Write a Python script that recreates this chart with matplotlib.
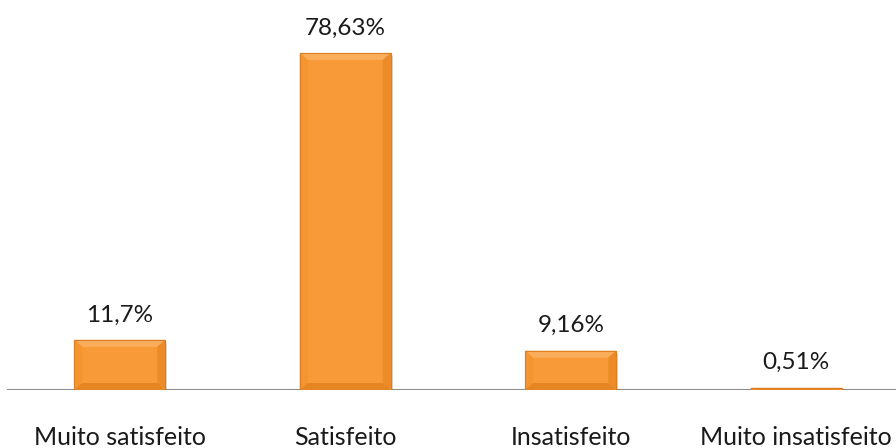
import matplotlib
matplotlib.use("Agg")
import matplotlib.pyplot as plt
from matplotlib.patches import Polygon, Rectangle

categorias = ["Muito satisfeito", "Satisfeito", "Insatisfeito", "Muito insatisfeito"]
valores = [11.7, 78.63, 9.16, 0.51]
rotulos = ["11,7%", "78,63%", "9,16%", "0,51%"]

plt.rcParams['font.family'] = ['Lato', 'DejaVu Sans']

fig = plt.figure(figsize=(8.96, 4.48), dpi=100)
# eixo ocupa de x=7px até a borda direita, base em y=58px
ax = fig.add_axes([7 / 896, 58 / 448, 889 / 896, 390 / 448])
ax.set_xlim(-0.5, -0.5 + 889 / 225.5)
ax.set_ylim(0, 390 / 4.286)

largura = 91 / 225.5
cor_base = "#F89A38"
barras = ax.bar(range(len(valores)), valores, width=largura, color=cor_base,
                edgecolor="#DC7E22", linewidth=0.8, zorder=3)

# sombra e chanfro de cada barra
px_x = 1 / 225.5
px_y = 1 / 4.286
for b in barras:
    x0, w, h = b.get_x(), b.get_width(), b.get_height()
    x1 = x0 + w
    ax.add_patch(Rectangle((x0 + 2 * px_x, -3 * px_y), w, h, color="#000000",
                           alpha=0.15, zorder=2, linewidth=0))
    bx = min(8 * px_x, w / 2)
    by = min(7 * px_y, h / 2)
    # topo mais claro
    ax.add_patch(Polygon([(x0, h), (x1, h), (x1 - bx, h - by), (x0 + bx, h - by)],
                         closed=True, color="#FAAE5C", zorder=4, linewidth=0))
    # laterais
    ax.add_patch(Polygon([(x0, 0), (x0, h), (x0 + bx, h - by), (x0 + bx, by)],
                         closed=True, color="#F5952F", zorder=4, linewidth=0))
    ax.add_patch(Polygon([(x1, 0), (x1, h), (x1 - bx, h - by), (x1 - bx, by)],
                         closed=True, color="#EC8C28", zorder=4, linewidth=0))
    # base mais escura
    ax.add_patch(Polygon([(x0, 0), (x1, 0), (x1 - bx, by), (x0 + bx, by)],
                         closed=True, color="#E58524", zorder=4, linewidth=0))
    ax.add_patch(Rectangle((x0, 0), w, h, fill=False, edgecolor="#DC7E22",
                           linewidth=0.8, zorder=5))

for i, (v, r) in enumerate(zip(valores, rotulos)):
    ax.text(i, v + 25 * px_y, r, ha="center", va="center", fontsize=17.5,
            color="#1a1a1a", zorder=6)
    ax.text(i, -47 * px_y, categorias[i], ha="center", va="center", fontsize=18,
            color="#1a1a1a", clip_on=False)

ax.axhline(0, color="#8c8c8c", linewidth=1.5, zorder=1)
for s in ax.spines.values():
    s.set_visible(False)
ax.set_xticks([])
ax.set_yticks([])

fig.savefig("out.png", dpi=100)
